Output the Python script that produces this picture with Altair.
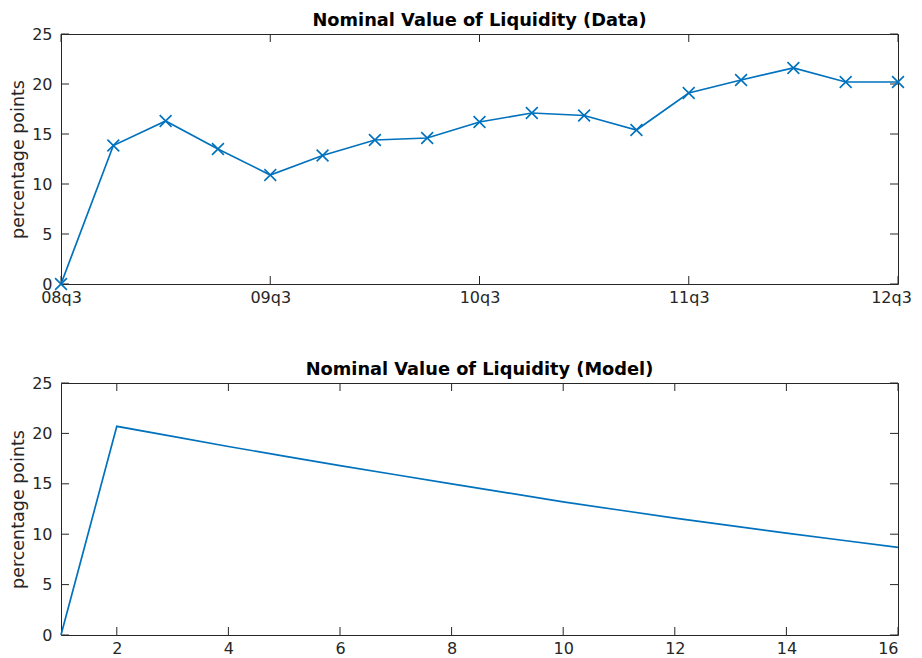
import altair as alt
import pandas as pd

# ---------------- data ----------------
quarters = ["08q3", "08q4", "09q1", "09q2", "09q3", "09q4", "10q1", "10q2", "10q3",
            "10q4", "11q1", "11q2", "11q3", "11q4", "12q1", "12q2", "12q3"]
data_values = [0.0, 13.85, 16.3, 13.5, 10.9, 12.85, 14.4, 14.6, 16.2,
               17.1, 16.85, 15.4, 19.1, 20.4, 21.6, 20.2, 20.2]
quarter_ticks = ["08q3", "09q3", "10q3", "11q3", "12q3"]

model_periods = list(range(1, 17))
model_values = [0.0, 20.7, 19.7, 18.7, 17.75, 16.8, 15.9, 15.0, 14.1,
                13.2, 12.4, 11.6, 10.85, 10.1, 9.4, 8.7]
model_ticks = [2, 4, 6, 8, 10, 12, 14, 16]
y_ticks = [0, 5, 10, 15, 20, 25]

title_top = "Nominal Value of Liquidity (Data)"
title_bot = "Nominal Value of Liquidity (Model)"
y_title = "percentage points"

# ---------------- style ----------------
BLUE = "#0072BD"
AX = "#262626"
FONT = "DejaVu Sans"
W = 837
H_TOP = 250
H_BOT = 252
TL = 8  # inward tick length

common_axis = dict(labelFont=FONT, labelFontSize=16, labelColor=AX, ticks=False,
                   domain=False, grid=False)

y_axis = alt.Axis(values=y_ticks, title=y_title, labelPadding=9, titlePadding=4,
                  titleFont=FONT, titleFontSize=17.5, titleFontWeight="normal",
                  titleColor=AX, **common_axis)
y_scale = alt.Scale(domain=[0, 25], nice=False)


def make_title(t):
    return alt.TitleParams(t, font=FONT, fontSize=17.8, fontWeight="bold", color="black",
                           anchor="middle", frame="group", offset=-4)


# ---------------- top panel ----------------
df_top = pd.DataFrame({"q": quarters, "v": data_values})
last_q = quarter_ticks[-1]
x_top = alt.X("q:O", scale=alt.Scale(domain=quarters, type="point", padding=0),
              axis=alt.Axis(values=quarter_ticks, labelAngle=0, title=None, labelPadding=5,
                            labelOffset={"expr": f"datum.value == '{last_q}' ? -7 : 0"},
                            **common_axis))
y_enc = alt.Y("v:Q", scale=y_scale, axis=y_axis)

line_top = alt.Chart(df_top).mark_line(color=BLUE, strokeWidth=1.7).encode(x=x_top, y=y_enc)
pts_top = alt.Chart(df_top).mark_point(shape="M-1,-1L1,1M-1,1L1,-1", size=140, filled=False,
                                       stroke=BLUE, strokeWidth=1.6, opacity=1).encode(x=x_top, y=y_enc)

ydf = pd.DataFrame({"v": y_ticks})
qdf = pd.DataFrame({"q": quarter_ticks})
yl_top = alt.Chart(ydf).mark_rule(color=AX, strokeWidth=1).encode(y=y_enc, x=alt.value(0), x2=alt.value(TL))
yr_top = alt.Chart(ydf).mark_rule(color=AX, strokeWidth=1).encode(y=y_enc, x=alt.value(W), x2=alt.value(W - TL))
xb_top = alt.Chart(qdf).mark_rule(color=AX, strokeWidth=1).encode(x=x_top, y=alt.value(H_TOP), y2=alt.value(H_TOP - TL))
xt_top = alt.Chart(qdf).mark_rule(color=AX, strokeWidth=1).encode(x=x_top, y=alt.value(0), y2=alt.value(TL))

top = alt.layer(yl_top, yr_top, xb_top, xt_top, line_top, pts_top).properties(
    width=W, height=H_TOP, title=make_title(title_top))

# ---------------- bottom panel ----------------
df_bot = pd.DataFrame({"t": model_periods, "v": model_values})
x_bot = alt.X("t:Q", scale=alt.Scale(domain=[1, 16], nice=False),
              axis=alt.Axis(values=model_ticks, title=None, labelPadding=5, **common_axis))
line_bot = alt.Chart(df_bot).mark_line(color=BLUE, strokeWidth=1.7).encode(x=x_bot, y=y_enc)

tdf = pd.DataFrame({"t": model_ticks})
yl_bot = alt.Chart(ydf).mark_rule(color=AX, strokeWidth=1).encode(y=y_enc, x=alt.value(0), x2=alt.value(TL))
yr_bot = alt.Chart(ydf).mark_rule(color=AX, strokeWidth=1).encode(y=y_enc, x=alt.value(W), x2=alt.value(W - TL))
xb_bot = alt.Chart(tdf).mark_rule(color=AX, strokeWidth=1).encode(x=x_bot, y=alt.value(H_BOT), y2=alt.value(H_BOT - TL))
xt_bot = alt.Chart(tdf).mark_rule(color=AX, strokeWidth=1).encode(x=x_bot, y=alt.value(0), y2=alt.value(TL))

bottom = alt.layer(yl_bot, yr_bot, xb_bot, xt_bot, line_bot).properties(
    width=W, height=H_BOT, title=make_title(title_bot))

chart = alt.vconcat(top, bottom, spacing=54).properties(
    padding={"left": 1, "top": 3, "right": 0, "bottom": 0},
    background="white"
).configure_view(stroke=AX, strokeWidth=1).configure_axis(
    labelFont=FONT, labelFontSize=16, labelColor=AX, ticks=False, domain=False, grid=False
)

chart.save("out.html", embed_options={"renderer": "svg", "actions": False})
